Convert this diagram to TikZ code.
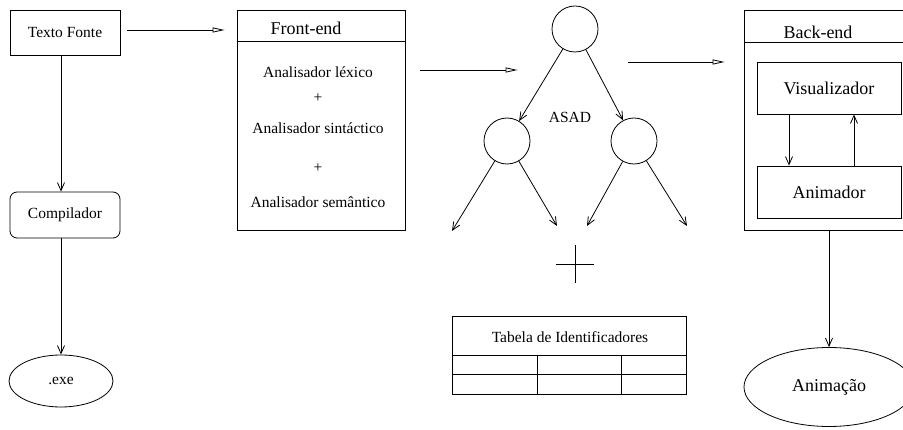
\documentclass[tikz,border=0pt]{standalone}
\usepackage{fontspec}
\setmainfont{Liberation Serif}
\usetikzlibrary{arrows.meta,shapes.geometric,calc}

\tikzset{
    box/.style={draw,rectangle,inner sep=0pt},
    txt/.style={font=\fontsize{15.5}{18}\selectfont,inner sep=1pt},
    bigtxt/.style={font=\fontsize{18}{21}\selectfont,inner sep=1pt},
    knot/.style={draw,circle,minimum size=46pt,inner sep=0pt},
    flow/.style={-{Straight Barb[length=8pt,width=7pt]}},
    feed/.style={-{Triangle[open,length=12pt,width=5pt]}},
}

\begin{document}
\begin{tikzpicture}[x=1pt,y=-1pt,line width=0.8pt]
    \useasboundingbox (0,0) rectangle (903,430);
    % Source %
    \node[box,txt,minimum width=110pt,minimum height=45pt] (src) at (65,32.5) {Texto Fonte};
    \node[box,txt,rounded corners=7pt,minimum width=110pt,minimum height=46pt] (comp) at (65,215) {Compilador};
    \node[draw,ellipse,txt,minimum width=104pt,minimum height=52pt] (exe) at (61,381) {.exe};
    \draw[flow] (src.south -| exe.north) -- (comp.north -| exe.north);
    \draw[flow] (comp.south -| exe.north) -- (exe.north);

    % Front-end %
    \node[box,minimum width=168pt,minimum height=220pt] (front) at (321,120) {};
    \draw ($(front.north west)+(0,32)$) -- ($(front.north east)+(0,32)$);
    \node[bigtxt] (ftitle) at (306,28) {Front-end};
    \node[txt] (lex) at (318,72) {Analisador léxico};
    \node[txt] (plusa) at (318,98) {+};
    \node[txt] (sin) at (318,128) {Analisador sintáctico};
    \node[txt] (plusb) at (318,168) {+};
    \node[txt] (sem) at (318,202) {Analisador semântico};
    \draw[feed,shorten <=7pt,shorten >=12pt] ([yshift=2.5pt]src.east) -- ([yshift=2.5pt]src.east -| front.west);

    % ASAD %
    \node[knot] (root) at (575,29) {};
    \node[knot] (lkid) at (507,141) {};
    \node[knot] (rkid) at (634,141) {};
    \node[txt] (asad) at (570,117) {ASAD};
    \draw[feed,shorten <=15pt,shorten >=34pt] ([yshift=50pt]front.east) -- ([yshift=50pt]front.east -| root.west);
    \draw[flow] (root) -- (lkid);
    \draw[flow] (root) -- (rkid);
    \coordinate (ll) at (452,231);
    \coordinate (lr) at (557,226);
    \coordinate (rl) at (587,226);
    \coordinate (rr) at (687,226);
    \draw[flow] (lkid) -- (ll);
    \draw[flow] (lkid) -- (lr);
    \draw[flow] (rkid) -- (rl);
    \draw[flow] (rkid) -- (rr);
    \draw (556,264) -- (594,264);
    \draw (575,245) -- (575,283);

    % Tabela %
    \node[box,minimum width=234pt,minimum height=78pt] (tab) at (569,355) {};
    \node[txt] (tabtitle) at (570,337) {Tabela de Identificadores};
    \draw (tab.west) -- (tab.east);
    \draw ([yshift=-19pt]tab.west) -- ([yshift=-19pt]tab.east);
    \draw ([xshift=-32pt]tab.center) -- ([xshift=-32pt]tab.south);
    \draw ([xshift=52pt]tab.center) -- ([xshift=52pt]tab.south);

    % Back-end %
    \node[box,minimum width=166pt,minimum height=220pt] (back) at (827,120) {};
    \draw ($(back.north west)+(0,33)$) -- ($(back.north east)+(0,33)$);
    \node[bigtxt] (btitle) at (818,32) {Back-end};
    \node[box,bigtxt,minimum width=144pt,minimum height=52pt] (vis) at (829,88) {Visualizador};
    \node[box,bigtxt,minimum width=144pt,minimum height=52pt] (anim) at (829,192) {Animador};
    \draw[flow] ([xshift=-40pt]vis.south) -- ([xshift=-40pt]anim.north);
    \draw[flow] ([xshift=25pt]anim.north) -- ([xshift=25pt]vis.south);
    \draw[feed] ([yshift=58pt,xshift=-116pt]back.west) -- ([yshift=58pt,xshift=-19pt]back.west);
    \node[draw,ellipse,bigtxt,minimum width=170pt,minimum height=79pt] (anima) at (829,387) {Animação};
    \draw[flow] (anima.north |- back.south) -- (anima.north);
\end{tikzpicture}
\end{document}
